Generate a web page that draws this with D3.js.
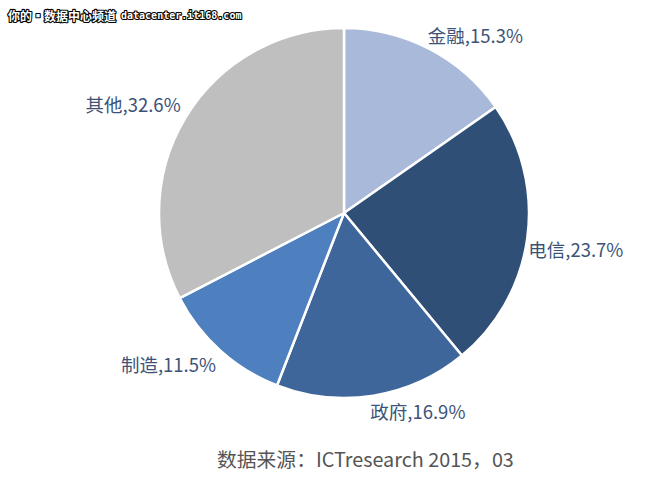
<!DOCTYPE html>
<html><head><meta charset="utf-8">
<script src="https://cdn.jsdelivr.net/npm/d3@7/dist/d3.min.js"></script>
<style>
html,body{margin:0;padding:0;background:#fff;}
svg{display:block;}
</style></head>
<body>
<svg id="chart" width="670" height="479"></svg>
<script>
const categories = ["金融", "电信", "政府", "制造", "其他"];
const values = [15.3, 23.7, 16.9, 11.5, 32.6];
const colors = ["#a9b9d9", "#2f4f77", "#3e669b", "#4e80bf", "#bfbfbf"];
const sourceText = "数据来源：ICTresearch 2015，03";
const watermark = "你的▪数据中心频道";
const watermarkUrl = "datacenter.it168.com";

const svg = d3.select("#chart");
const W = 670, H = 479;
const cx = 344, cy = 213, R = 185;

const data = categories.map((c, i) => ({ name: c, value: values[i], color: colors[i] }));
const pie = d3.pie().value(d => d.value).sort(null);
const arcs = pie(data);
const arc = d3.arc().innerRadius(0).outerRadius(R);
const labelArc = d3.arc().innerRadius(190).outerRadius(190);

const g = svg.append("g").attr("transform", `translate(${cx},${cy})`);
g.selectAll("path").data(arcs).join("path")
  .attr("d", arc)
  .attr("fill", d => d.data.color)
  .attr("stroke", "#fff")
  .attr("stroke-width", 2.5)
  .attr("stroke-linejoin", "round");

g.selectAll("text.lbl").data(arcs).join("text")
  .attr("class", "lbl")
  .each(function(d) {
    const [x, y] = labelArc.centroid(d);
    const mid = (d.startAngle + d.endAngle) / 2;
    const right = Math.sin(mid) > 0;
    d3.select(this)
      .attr("x", x + (right ? -4 : -1))
      .attr("y", y + (Math.cos(mid) > 0 ? -10 : 10))
      .attr("text-anchor", right ? "start" : "end");
  })
  .attr("dominant-baseline", "central")
  .attr("font-family", "'Noto Sans CJK SC', 'Open Sans', sans-serif")
  .attr("font-size", 18.5)
  .attr("fill", "#3c5377")
  .text(d => d.data.name + "," + d.data.value.toFixed(1) + "%");

svg.append("text")
  .attr("x", 217).attr("y", 458)
  .attr("dominant-baseline", "central")
  .attr("font-family", "'Noto Sans CJK SC', 'Open Sans', sans-serif")
  .attr("font-size", 19.8)
  .attr("fill", "#555")
  .text(sourceText);

const wm = svg.append("text")
  .attr("x", 8).attr("y", 15)
  .attr("dominant-baseline", "central")
  .attr("font-weight", "bold")
  .attr("fill", "#fff")
  .attr("stroke", "#000")
  .attr("stroke-width", 2.2)
  .attr("paint-order", "stroke")
  .attr("stroke-linejoin", "round");
wm.append("tspan")
  .attr("font-family", "'Noto Sans CJK SC', sans-serif")
  .attr("font-size", 12)
  .text(watermark);
wm.append("tspan")
  .attr("dx", 5)
  .attr("font-family", "'DejaVu Sans Mono', monospace")
  .attr("font-size", 10)
  .text(watermarkUrl);
</script>
</body></html>
